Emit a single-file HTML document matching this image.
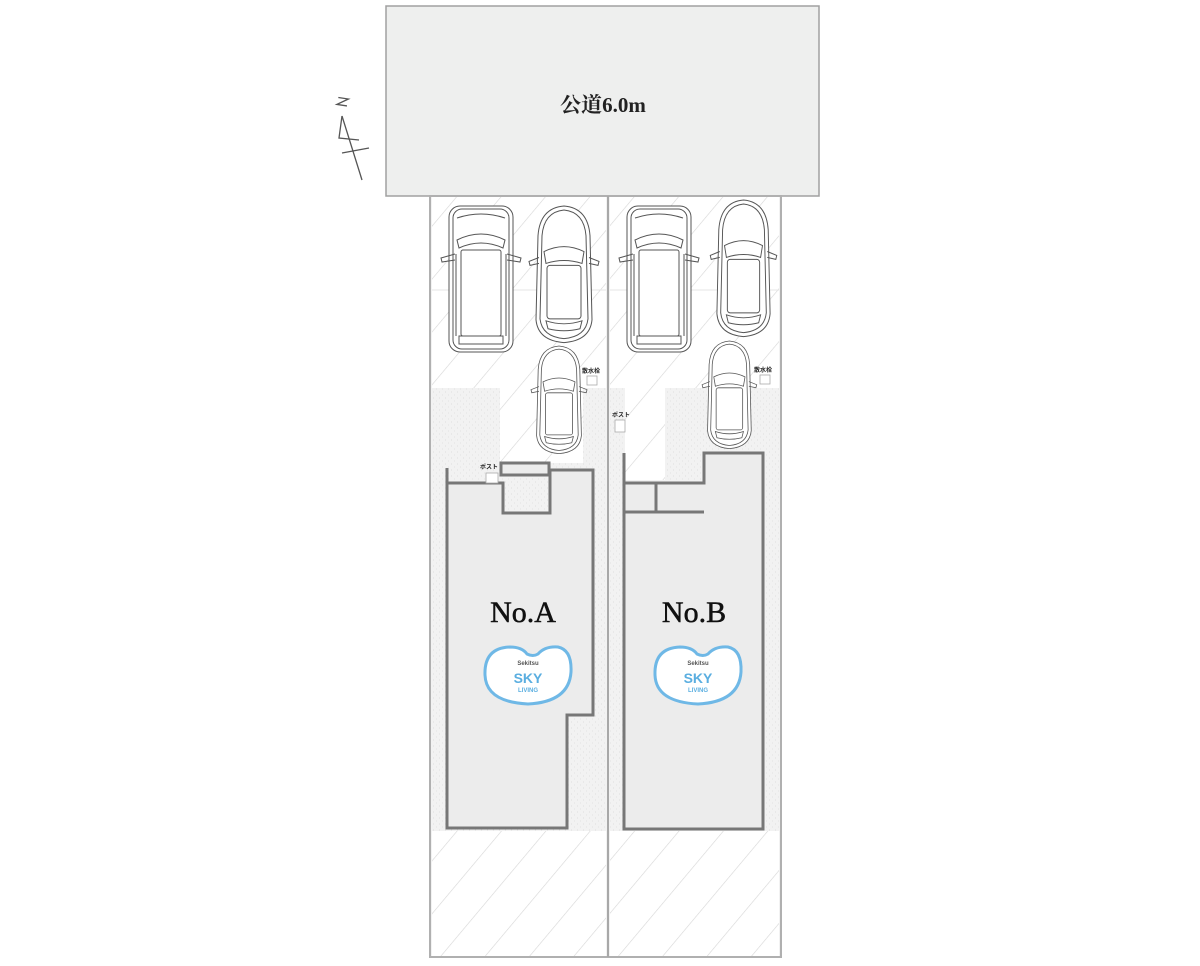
<!DOCTYPE html>
<html><head><meta charset="utf-8"><style>
html,body{margin:0;padding:0;background:#fff;width:1200px;height:966px;overflow:hidden}
svg{display:block}
</style></head><body>
<svg width="1200" height="966" viewBox="0 0 1200 966" xmlns="http://www.w3.org/2000/svg">
<defs>
<pattern id="hatch" patternUnits="userSpaceOnUse" width="34" height="34" patternTransform="rotate(40)">
<rect width="34" height="34" fill="#fff"/>
<line x1="0" y1="0" x2="0" y2="34" stroke="#d6d6d6" stroke-width="1.2"/>
</pattern>
<pattern id="dots" patternUnits="userSpaceOnUse" width="6" height="6">
<rect width="6" height="6" fill="#f2f2f2"/>
<circle cx="1.5" cy="2" r="0.5" fill="#d6d6d6"/>
<circle cx="4.5" cy="5" r="0.5" fill="#dcdcdc"/>
</pattern>
<g id="van" fill="none" stroke="#555" stroke-width="1">
<rect x="0" y="0" width="64" height="146" rx="11" fill="#fff"/>
<rect x="4" y="3" width="56" height="140" rx="9"/>
<path d="M8 12 Q32 4 56 12"/>
<path d="M8 34 Q32 22 56 34 L54 42 Q32 32 10 42 Z"/>
<rect x="12" y="44" width="40" height="86" rx="2"/>
<path d="M10 130 L54 130 L54 138 L10 138 Z"/>
<path d="M6 48 L-8 52 L-7 56 L6 54"/>
<path d="M58 48 L72 52 L71 56 L58 54"/>
<line x1="7" y1="48" x2="7" y2="130"/><line x1="57" y1="48" x2="57" y2="130"/>
</g>
<g id="car" fill="none" stroke="#555" stroke-width="1">
<path d="M4 30 Q6 2 30 0 Q54 2 56 30 L58 115 Q56 136 30 138 Q4 136 2 115 Z" fill="#fff"/>
<path d="M8 30 Q10 6 30 4 Q50 6 52 30 L54 114 Q52 132 30 134 Q8 132 6 114 Z"/>
<path d="M10 46 Q30 36 50 46 L48 58 Q30 52 12 58 Z"/>
<rect x="13" y="60" width="34" height="54" rx="3"/>
<path d="M12 116 Q30 122 48 116 L46 124 Q30 128 14 124 Z"/>
<path d="M5 52 L-5 56 L-4 60 L5 58"/>
<path d="M55 52 L65 56 L64 60 L55 58"/>
</g>
</defs>

<!-- road -->
<rect x="386" y="6" width="433" height="190" fill="#eeefee" stroke="#a0a0a0" stroke-width="1.5"/>
<text x="603" y="112" text-anchor="middle" font-family="'Liberation Serif','Noto Serif CJK SC',serif" font-weight="bold" font-size="21" fill="#222">公道6.0m</text>

<!-- compass -->
<g stroke="#555" stroke-width="1.3" fill="none">
<path d="M340 108 L338 98 L347 107 L345 97" transform="rotate(-70 342 102)"/>
<line x1="342" y1="116" x2="362" y2="180"/>
<path d="M342 116 L339 138 L359 140"/>
<line x1="342" y1="153" x2="369" y2="148"/>
</g>

<!-- lot base -->
<rect x="430" y="196" width="351" height="761" fill="url(#dots)"/>
<rect x="432" y="197" width="174" height="191" fill="url(#hatch)"/>
<rect x="610" y="197" width="169" height="191" fill="url(#hatch)"/>
<rect x="500" y="388" width="83" height="75" fill="url(#hatch)"/>
<rect x="625" y="388" width="40" height="92" fill="url(#hatch)"/>
<rect x="432" y="831" width="174" height="125" fill="url(#hatch)"/>
<rect x="610" y="831" width="169" height="125" fill="url(#hatch)"/>
<line x1="432" y1="290" x2="606" y2="290" stroke="#e4e4e4"/>
<line x1="610" y1="290" x2="779" y2="290" stroke="#e4e4e4"/>

<rect x="430" y="196" width="351" height="761" fill="none" stroke="#b0b0b0" stroke-width="2"/>
<line x1="608" y1="196" x2="608" y2="957" stroke="#a8a8a8" stroke-width="2"/>

<!-- house A -->
<g stroke="#777" stroke-width="3" fill="#ececec">
<path d="M447 483 L503 483 L503 513 L550 513 L550 470 L593 470 L593 715 L567 715 L567 828 L447 828 Z"/>
<rect x="501" y="463" width="48" height="12" fill="#ececec"/>
<line x1="447" y1="468" x2="447" y2="483"/>
</g>
<rect x="486" y="473" width="12" height="10" fill="#fff" stroke="#aaa" stroke-width="0.8"/>
<!-- house B -->
<g stroke="#777" stroke-width="3" fill="#ececec">
<path d="M624 483 L704 483 L704 453 L763 453 L763 829 L624 829 Z"/>
<line x1="624" y1="512" x2="704" y2="512"/>
<line x1="656" y1="483" x2="656" y2="512"/>
<line x1="624" y1="453" x2="624" y2="483"/>
</g>
<rect x="615" y="420" width="10" height="12" fill="#fff" stroke="#aaa" stroke-width="0.8"/>
<rect x="587" y="376" width="10" height="9" fill="#fff" stroke="#aaa" stroke-width="0.8"/>
<rect x="760" y="375" width="10" height="9" fill="#fff" stroke="#aaa" stroke-width="0.8"/>

<use href="#van" transform="translate(449,206)"/>
<use href="#car" transform="translate(534,206) scale(1.0,0.99)"/>
<use href="#car" transform="translate(535,346) scale(0.8,0.78)"/>
<use href="#van" transform="translate(627,206)"/>
<use href="#car" transform="translate(715,200) scale(0.95,0.99)"/>
<use href="#car" transform="translate(706,341) scale(0.78,0.78)"/>

<g font-family="'Liberation Sans','Noto Sans CJK JP',sans-serif" font-size="6" font-weight="bold" fill="#222">
<text x="582" y="373">散水栓</text>
<text x="754" y="372">散水栓</text>
<text x="480" y="469">ポスト</text>
<text x="612" y="417">ポスト</text>
</g>

<g font-family="'Liberation Serif',serif" font-size="30" fill="#111" text-anchor="middle" stroke="#111" stroke-width="0.5">
<text x="523" y="622">No.A</text>
<text x="694" y="622">No.B</text>
</g>

<g>
<path d="M485 675 Q484 648 510 647 Q522 647 527 654 Q533 657 538 654 Q545 646 558 647 Q572 650 571 672 Q569 702 528 704 Q486 702 485 675 Z" fill="#fff" stroke="#6fb8e6" stroke-width="3"/>
<text x="528" y="665" text-anchor="middle" font-family="'Liberation Sans',sans-serif" font-size="6" font-weight="bold" fill="#555">Sekitsu</text>
<text x="528" y="683" text-anchor="middle" font-family="'Liberation Sans',sans-serif" font-size="14" font-weight="bold" fill="#5aaee0">SKY</text>
<text x="528" y="692" text-anchor="middle" font-family="'Liberation Sans',sans-serif" font-size="6" font-weight="bold" fill="#5aaee0">LIVING</text>
</g>
<g transform="translate(170,0)">
<path d="M485 675 Q484 648 510 647 Q522 647 527 654 Q533 657 538 654 Q545 646 558 647 Q572 650 571 672 Q569 702 528 704 Q486 702 485 675 Z" fill="#fff" stroke="#6fb8e6" stroke-width="3"/>
<text x="528" y="665" text-anchor="middle" font-family="'Liberation Sans',sans-serif" font-size="6" font-weight="bold" fill="#555">Sekitsu</text>
<text x="528" y="683" text-anchor="middle" font-family="'Liberation Sans',sans-serif" font-size="14" font-weight="bold" fill="#5aaee0">SKY</text>
<text x="528" y="692" text-anchor="middle" font-family="'Liberation Sans',sans-serif" font-size="6" font-weight="bold" fill="#5aaee0">LIVING</text>
</g>
</svg>
</body></html>
